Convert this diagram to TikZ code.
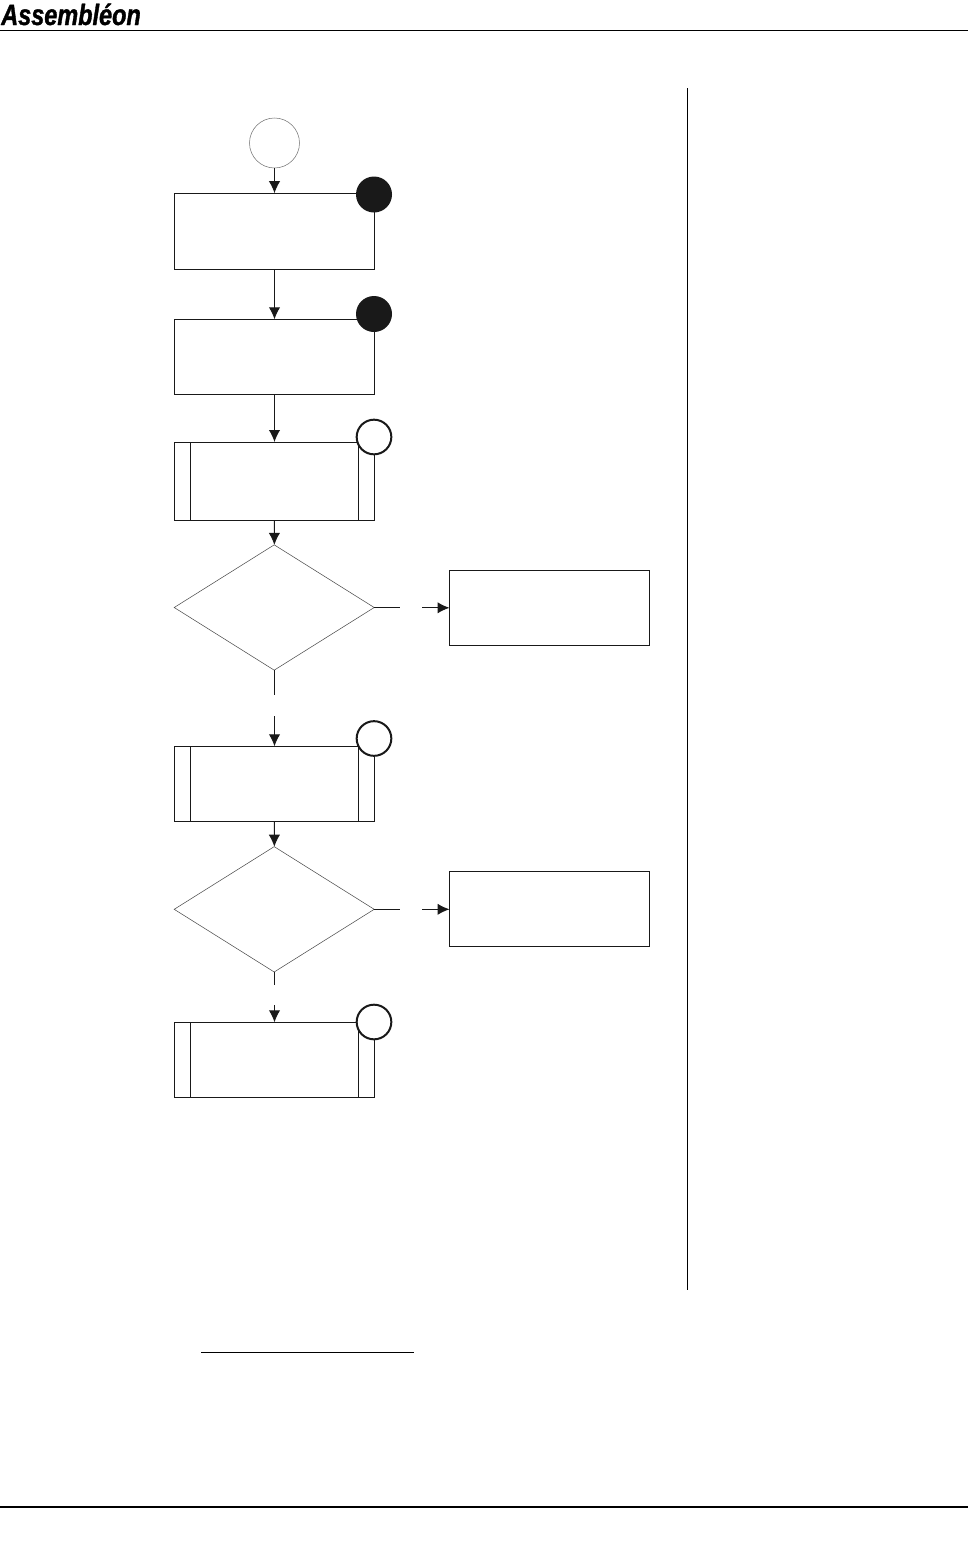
\documentclass[tikz,border=0pt]{standalone}
\usepackage{fontspec}
\newfontfamily\logofont[FakeStretch=0.8, FakeBold=1.2]{Liberation Sans}
\usetikzlibrary{arrows.meta, shapes.geometric, positioning}

\begin{document}
\begin{tikzpicture}[
    x=0.75pt, y=-0.75pt,
    flowLine/.style={line width=0.75pt, black!90, -{Latex[length=9pt,width=8.5pt]}}, % arrow between boxes
    stubLine/.style={line width=0.75pt, black!90}, % stub leaving a decision
    procBox/.style={rectangle, draw=black!90, line width=0.75pt, fill=white, inner sep=0pt, outer sep=0pt, minimum width=150pt, minimum height=56.25pt},
    decBox/.style={diamond, draw=black!70, line width=0.4pt, inner sep=0pt, outer sep=0pt, minimum width=150pt, minimum height=94pt},
    startMark/.style={circle, draw=black!55, line width=0.4pt, inner sep=0pt, outer sep=0pt, minimum size=37.5pt},
    openBadge/.style={circle, fill=white, draw=black!90, line width=1.5pt, inner sep=0pt, minimum size=26pt},
    fullBadge/.style={circle, fill=black!90, inner sep=0pt, minimum size=27pt},
]
    \useasboundingbox (0,0) rectangle (968,1563);

    % 1. page furniture
    \node[anchor=base west, inner sep=0pt, font=\logofont\bfseries\itshape\fontsize{22pt}{22pt}\selectfont] (logo) at (1,25) {Assembléon};
    \coordinate (topL) at (0,30);
    \coordinate (topR) at (968,30);
    \coordinate (botL) at (0,1507);
    \coordinate (botR) at (968,1507);
    \coordinate (barT) at (687,88);
    \coordinate (barB) at (687,1290);
    \coordinate (noteL) at (201,1352);
    \coordinate (noteR) at (414,1352);
    \draw[line width=0.75pt] (topL) -- (topR);
    \draw[line width=1.2pt] (botL) -- (botR);
    \draw[line width=0.75pt] (barT) -- (barB);
    \draw[line width=0.75pt] (noteL) -- (noteR);

    % 2. main column
    \node[startMark] (start) at (274.5,143) {};
    \node[procBox, minimum height=57pt] (load) at (274.5,231.2) {};
    \node[procBox] (prep) at (274.5,356.8) {};
    \node[procBox, minimum height=58.5pt] (sub1) at (274.5,481) {};
    \node[decBox] (dec1) at (274.2,607.5) {};
    \node[procBox] (sub2) at (274.5,783.8) {};
    \node[decBox] (dec2) at (274.2,909.3) {};
    \node[procBox] (sub3) at (274.5,1059.8) {};

    % 3. side boxes
    \node[procBox] (side1) at (549.5,607.8) {};
    \node[procBox] (side2) at (549.5,909.3) {};

    % 4. inner bars of the sub-process boxes
    \foreach \b in {sub1, sub2, sub3} {
        \draw[stubLine] ([xshift=12pt]\b.north west) -- ([xshift=12pt]\b.south west);
        \draw[stubLine] ([xshift=-12pt]\b.north east) -- ([xshift=-12pt]\b.south east);
    }

    % 5. connectors
    \draw[flowLine] (start) -- (load);
    \draw[flowLine] (load) -- (prep);
    \draw[flowLine] (prep) -- (sub1);
    \draw[flowLine] (sub1) -- (dec1);
    \draw[flowLine] (sub2) -- (dec2);

    \coordinate (gap1a) at (274.2,695);
    \coordinate (gap1b) at (274.5,716);
    \coordinate (gap2a) at (274.2,985);
    \coordinate (gap2b) at (274.5,1005);
    \coordinate (gap3a) at (400,607.5);
    \coordinate (gap3b) at (422,607.8);
    \coordinate (gap4a) at (400,909.3);
    \coordinate (gap4b) at (422,909.3);
    \draw[stubLine] (dec1.south) -- (gap1a);
    \draw[flowLine] (gap1b) -- (sub2);
    \draw[stubLine] (dec2.south) -- (gap2a);
    \draw[flowLine] (gap2b) -- (sub3);
    \draw[stubLine] (dec1.east) -- (gap3a);
    \draw[flowLine] (gap3b) -- (side1);
    \draw[stubLine] (dec2.east) -- (gap4a);
    \draw[flowLine] (gap4b) -- (side2);

    % 6. corner badges
    \node[fullBadge] (badge1) at (374,194.5) {};
    \node[fullBadge] (badge2) at (374,314) {};
    \node[openBadge] (badge3) at (374,437) {};
    \node[openBadge] (badge4) at (374,738.5) {};
    \node[openBadge] (badge5) at (374,1022) {};
\end{tikzpicture}
\end{document}
